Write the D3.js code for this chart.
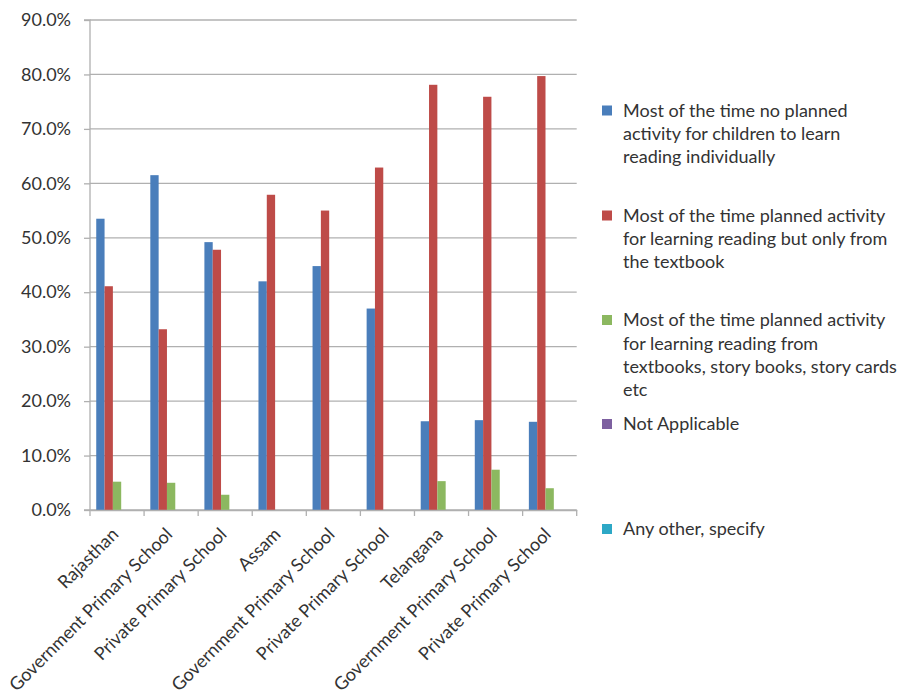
<!DOCTYPE html>
<html><head><meta charset="utf-8">
<script src="https://cdn.jsdelivr.net/npm/d3@7"></script>
<style>body{margin:0;background:#fff}svg{display:block}text{font-family:Lato,"Open Sans",sans-serif;fill:#333}</style>
</head><body>
<svg id="c" width="897" height="694"></svg>
<script>
const categories = ["Rajasthan","Government Primary School","Private Primary School","Assam","Government Primary School","Private Primary School","Telangana","Government Primary School","Private Primary School"];
const seriesNames = [
  "Most of the time no planned activity for children to learn reading individually",
  "Most of the time planned activity for learning reading but only from the textbook",
  "Most of the time planned activity for learning reading from textbooks, story books, story cards etc",
  "Not Applicable",
  "Any other, specify"
];
const legendLines = [
  ["Most of the time no planned","activity for children to learn","reading individually"],
  ["Most of the time planned activity","for learning reading but only from","the textbook"],
  ["Most of the time planned activity","for learning reading from","textbooks, story books, story cards","etc"],
  ["Not Applicable"],
  ["Any other, specify"]
];
const noPlanned   = [53.5, 61.5, 49.2, 42.0, 44.8, 37.0, 16.3, 16.5, 16.2];
const textbookOnly= [41.1, 33.2, 47.8, 57.9, 55.0, 62.9, 78.1, 75.9, 79.7];
const storyBooks  = [5.2, 5.0, 2.8, 0, 0, 0, 5.3, 7.4, 4.0];
const notApplicable=[0,0,0,0,0,0,0,0,0];
const anyOther    = [0,0,0,0,0,0,0,0,0];
const seriesValues = [noPlanned, textbookOnly, storyBooks, notApplicable, anyOther];
const yTicks = [0,10,20,30,40,50,60,70,80,90];
const colors = ["#4A7EBB","#BE4B48","#8CB860","#7D60A0","#2DA8C6"];

const svg = d3.select("#c");
const L=90, R=576.7, T=20, B=510;
const x = d3.scaleBand().domain(d3.range(categories.length)).range([L,R]).paddingInner(0).paddingOuter(0);
const y = d3.scaleLinear().domain([0,90]).range([B,T]);
const nS = seriesValues.length;
const bw = x.bandwidth()/(nS+1.5);
const grid="#B0B0B0";

svg.append("g").selectAll("line").data(yTicks).join("line")
  .attr("x1",L).attr("x2",R).attr("y1",d=>y(d)).attr("y2",d=>y(d))
  .attr("stroke",grid).attr("stroke-width",1.3);

seriesValues.forEach((vals,si)=>{
  svg.append("g").selectAll("rect").data(vals).join("rect")
    .attr("x",(d,i)=>x(i)+0.75*bw+si*bw)
    .attr("width",bw)
    .attr("y",d=>y(d))
    .attr("height",d=>B-y(d))
    .attr("fill",colors[si]);
});

const ya = svg.append("g").attr("transform",`translate(${L},0)`)
  .call(d3.axisLeft(y).tickValues(yTicks).tickSize(6).tickPadding(13).tickFormat(d=>d.toFixed(1)+"%"));
ya.select(".domain").attr("stroke",grid).attr("stroke-width",1.3).attr("d",`M-6,${T}H0V${B}H-6`);
ya.selectAll(".tick line").attr("stroke",grid).attr("stroke-width",1.3);
ya.selectAll(".tick text").style("font-size","18px").style("fill","#333").attr("font-family","Lato");

const xa = svg.append("g").attr("transform",`translate(0,${B})`)
  .call(d3.axisBottom(x).tickSize(0).tickFormat(i=>categories[i]));
xa.select(".domain").attr("stroke",grid).attr("stroke-width",1.3);
xa.selectAll(".tick line").remove();
xa.selectAll(".tick text").remove();
svg.append("g").selectAll("line").data(d3.range(categories.length+1)).join("line")
  .attr("x1",i=>L+i*x.bandwidth()).attr("x2",i=>L+i*x.bandwidth())
  .attr("y1",B).attr("y2",B+6).attr("stroke",grid).attr("stroke-width",1.3);
svg.append("g").selectAll("text").data(categories).join("text")
  .attr("transform",(d,i)=>`translate(${x(i)+x.bandwidth()/2-2},${B+21}) rotate(-45)`)
  .attr("text-anchor","end").attr("dy","0.35em")
  .style("font-size","18px").text(d=>d);

const legY = [110.5, 215.5, 320, 424, 529];
const lg = svg.append("g");
legendLines.forEach((lines,si)=>{
  lg.append("rect").attr("x",602).attr("y",legY[si]-5).attr("width",10).attr("height",10).attr("fill",colors[si]);
  lines.forEach((ln,j)=>{
    lg.append("text").attr("x",623).attr("y",legY[si]+j*23.3).attr("dy","0.35em")
      .style("font-size","18px").text(ln);
  });
});
</script>
</body></html>
